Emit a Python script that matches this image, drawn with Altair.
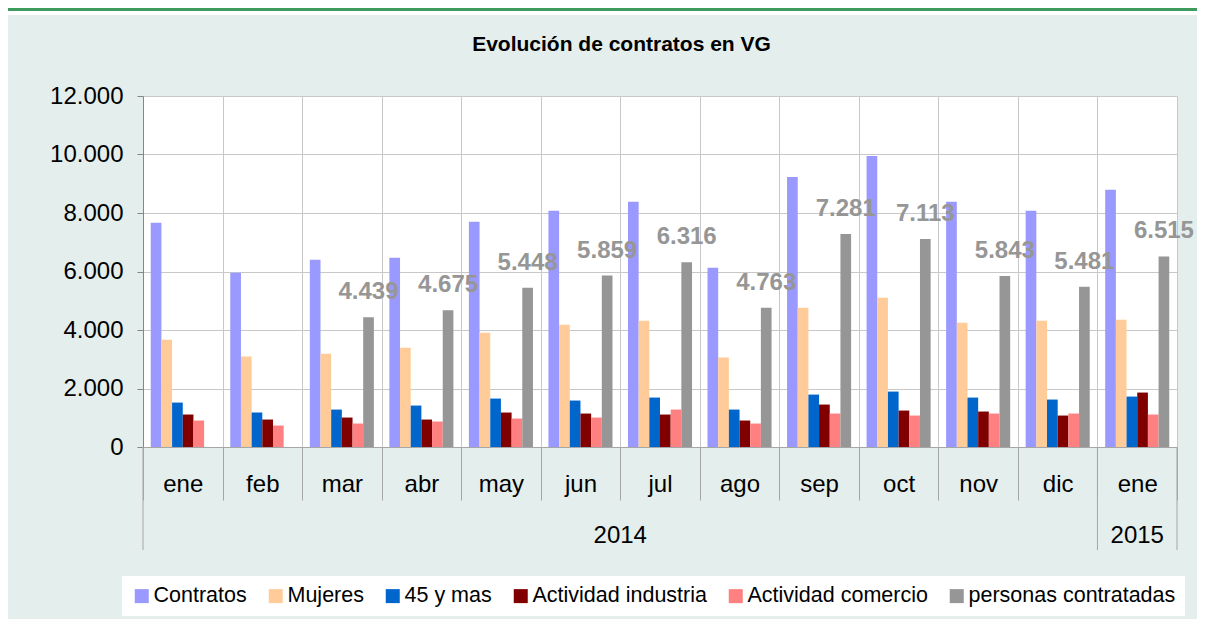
import altair as alt
import pandas as pd

months = ["ene", "feb", "mar", "abr", "may", "jun", "jul", "ago", "sep", "oct", "nov", "dic", "ene"]
years = ["2014"] * 12 + ["2015"]
series = ["Contratos", "Mujeres", "45 y mas", "Actividad industria", "Actividad comercio", "personas contratadas"]
colors = ["#9999ff", "#ffcc99", "#0066cc", "#800000", "#ff8080", "#969696"]

contratos = [7664, 5957, 6401, 6469, 7699, 8074, 8381, 6128, 9235, 9952, 8381, 8074, 8791]
mujeres = [3670, 3090, 3192, 3397, 3909, 4182, 4319, 3056, 4763, 5104, 4250, 4319, 4353]
mayores45 = [1519, 1178, 1280, 1417, 1656, 1588, 1690, 1280, 1792, 1895, 1690, 1622, 1724]
industria = [1110, 939, 1007, 939, 1178, 1144, 1110, 905, 1451, 1246, 1212, 1075, 1861]
comercio = [905, 734, 802, 871, 973, 1007, 1280, 802, 1144, 1075, 1144, 1144, 1110]
personas = [None, None, 4439, 4675, 5448, 5859, 6316, 4763, 7281, 7113, 5843, 5481, 6515]

keys = [f"{m}-{y}" for m, y in zip(months, years)]
all_values = [contratos, mujeres, mayores45, industria, comercio, personas]

rows = []
for i, k in enumerate(keys):
    for s, arr in zip(series, all_values):
        if arr[i] is not None:
            rows.append({"key": k, "serie": s, "valor": arr[i]})
df = pd.DataFrame(rows)

W, H = 1034, 351
PL, PT, PR, PB = 135, 88, 20, 172
FONT = "Liberation Sans"
GRID = "#c8c8c8"
TICK = "#a6a6a6"

xscale = alt.Scale(domain=keys, paddingInner=0, paddingOuter=0)
offscale = alt.Scale(domain=series, paddingInner=0, paddingOuter=0.725)
yscale = alt.Scale(domain=[0, 12000], nice=False)
cscale = alt.Scale(domain=series, range=colors)

one = pd.DataFrame({"d": [0]})

strip = alt.Chart(one).mark_rect(color="white").encode(
    x=alt.value(-PL), x2=alt.value(W + PR), y=alt.value(-PT), y2=alt.value(-PT + 7)
)
green = alt.Chart(one).mark_rect(color="#3d9b5d").encode(
    x=alt.value(-PL), x2=alt.value(W + PR), y=alt.value(-PT), y2=alt.value(-PT + 3)
)

bars = alt.Chart(df).mark_bar().encode(
    x=alt.X("key:N", title=None, scale=xscale, sort=keys,
            axis=alt.Axis(grid=True, tickBand="extent")),
    xOffset=alt.XOffset("serie:N", scale=offscale, sort=series),
    y=alt.Y("valor:Q", title=None, scale=yscale),
    color=alt.Color("serie:N", scale=cscale, sort=series, legend=alt.Legend(title=None)),
)

labels = alt.Chart(df).transform_filter(
    alt.datum.serie == series[5]
).transform_calculate(
    lbl="replace(format(datum.valor, ',.0f'), ',', '.')"
).mark_text(
    fontSize=24, fontWeight="bold", color="#969696", baseline="alphabetic", dy=-18, font=FONT
).encode(
    x=alt.X("key:N", title=None, scale=xscale, sort=keys),
    xOffset=alt.XOffset("serie:N", scale=offscale, sort=series),
    y=alt.Y("valor:Q", title=None, scale=yscale),
    text="lbl:N",
)

year_starts = pd.DataFrame({"key": [keys[0], keys[12]]})
seps = alt.Chart(year_starts).mark_rule(color=TICK).encode(
    x=alt.X("key:N", title=None, scale=xscale, sort=keys, bandPosition=0),
    y=alt.value(H), y2=alt.value(H + 103),
)
sep_end = alt.Chart(one).mark_rule(color=TICK).encode(
    x=alt.value(W), y=alt.value(H), y2=alt.value(H + 103)
)

yr1 = alt.Chart(pd.DataFrame({"key": [keys[6]], "year": [years[0]]})).mark_text(
    fontSize=24, font=FONT, color="black", baseline="alphabetic"
).encode(
    x=alt.X("key:N", title=None, scale=xscale, sort=keys, bandPosition=0),
    y=alt.value(H + 96), text="year:N",
)
yr2 = alt.Chart(pd.DataFrame({"key": [keys[12]], "year": [years[12]]})).mark_text(
    fontSize=24, font=FONT, color="black", baseline="alphabetic"
).encode(
    x=alt.X("key:N", title=None, scale=xscale, sort=keys, bandPosition=0.5),
    y=alt.value(H + 96), text="year:N",
)

title = alt.Chart(one).mark_text(
    text="Evolución de contratos en VG", fontSize=21, fontWeight="bold", font=FONT,
    color="black", baseline="alphabetic", align="center"
).encode(x=alt.value(478.5), y=alt.value(-45))

chart = alt.layer(strip, green, bars, labels, seps, sep_end, yr1, yr2, title).properties(
    width=W, height=H,
    autosize=alt.AutoSizeParams(type="none"),
    padding={"left": PL, "top": PT, "right": PR, "bottom": PB},
    background="#e4eeec",
).configure_view(
    fill="white", stroke=None
).configure_axisX(
    labelExpr="substring(datum.label, 0, 3)", tickBand="extent", tickSize=53,
    tickColor=TICK, domainColor=TICK, gridColor=GRID, labelFontSize=24, labelFont=FONT,
    labelColor="black", labelAngle=0, labelBaseline="alphabetic", labelPadding=-8.5,
).configure_axisY(
    labelExpr="replace(format(datum.value, ',.0f'), ',', '.')", tickCount=6,
    labelFontSize=24, labelFont=FONT, labelColor="black", labelPadding=14, tickSize=6,
    tickColor="#868686", domainColor="#868686", gridColor=GRID,
).configure_legend(
    orient="none", legendX=-21, legendY=480, direction="horizontal", fillColor="white",
    padding=9, labelFontSize=21.5, labelFont=FONT, labelColor="black", symbolType="square",
    symbolSize=196, symbolStrokeWidth=0, symbolOpacity=1, labelOffset=1, columnPadding=18,
    labelLimit=0,
)

chart.save("out.html", embed_options={"renderer": "svg", "actions": False})
